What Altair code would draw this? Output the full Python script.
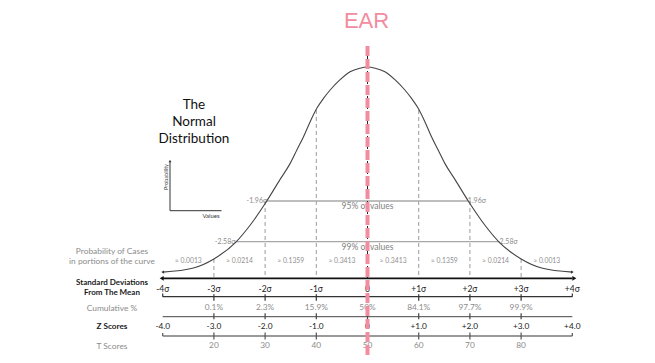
import altair as alt
import pandas as pd

# ---- data ----
# curve heights (peak = 1) at positions in standard deviations
curve_sigma = [-4.0, -3.4, -3.0, -2.57, -2.29, -1.98, -1.71, -1.51, -1.38, -1.25, -1.12, -0.99,
               -0.86, -0.73, -0.54, -0.34, -0.15, 0.0,
               0.15, 0.34, 0.54, 0.73, 0.86, 0.99, 1.12, 1.25, 1.38, 1.51, 1.71, 1.98, 2.29,
               2.57, 3.0, 3.4, 4.0]
curve_height = [0.002, 0.022, 0.066, 0.148, 0.231, 0.343, 0.452, 0.531, 0.596, 0.661, 0.734, 0.799,
                0.847, 0.888, 0.937, 0.977, 0.994, 1.0,
                0.994, 0.977, 0.937, 0.888, 0.847, 0.799, 0.734, 0.661, 0.596, 0.531, 0.452, 0.343, 0.231,
                0.148, 0.066, 0.022, 0.002]

guide_sigma = [-3, -2, -1, 1, 2, 3]
guide_top = [0.066, 0.348, 0.791, 0.791, 0.348, 0.066]

interval_names = ["95% of values", "99% of values"]
interval_half = [1.96, 2.58]
interval_height = [0.348, 0.150]
interval_left = ["-1.96σ", "-2.58σ"]
interval_right = ["1.96σ", "2.58σ"]

prob_centers = [-3.5, -2.5, -1.5, -0.5, 0.5, 1.5, 2.5, 3.5]
prob_labels = ["≈ 0.0013", "≈ 0.0214", "≈ 0.1359", "≈ 0.3413",
               "≈ 0.3413", "≈ 0.1359", "≈ 0.0214", "≈ 0.0013"]

sd_ticks = [-4, -3, -2, -1, 0, 1, 2, 3, 4]
sd_labels = ["-4σ", "-3σ", "-2σ", "-1σ", "0", "+1σ", "+2σ", "+3σ", "+4σ"]
z_labels = ["-4.0", "-3.0", "-2.0", "-1.0", "0", "+1.0", "+2.0", "+3.0", "+4.0"]
inner_ticks = [-3, -2, -1, 0, 1, 2, 3]
cum_labels = ["0.1%", "2.3%", "15.9%", "50%", "84.1%", "97.7%", "99.9%"]
t_labels = ["20", "30", "40", "50", "60", "70", "80"]

row_names = ["Probability of Cases", "in portions of the curve", "Standard Deviations",
             "From The Mean", "Cumulative %", "Z Scores", "T Scores"]
title_lines = ["The", "Normal", "Distribution"]
marker_label = "EAR"

# ---- style ----
FONT = "Lato"
GREY = "#8c8c8c"
DARK = "#222222"
PINK = "#F28CA0"

XS = alt.Scale(domain=[-7.0215, 5.4585], nice=False, zero=False)
YS = alt.Scale(domain=[-0.4015, 1.2871], nice=False, zero=False)


def X(f="x"):
    return alt.X(f + ":Q", scale=XS, axis=None)


def Y(f="y"):
    return alt.Y(f + ":Q", scale=YS, axis=None)


curve_df = pd.DataFrame({"x": curve_sigma, "y": curve_height})
curve = alt.Chart(curve_df).mark_line(color="#444444", strokeWidth=1.1, interpolate="monotone").encode(
    x=X(), y=Y())

ends_df = pd.DataFrame({"x": [curve_sigma[0], curve_sigma[-1]],
                        "y": [curve_height[0], curve_height[-1]],
                        "s": ["l", "r"]})
ends = alt.Chart(ends_df).mark_point(filled=True, size=10, color="#333333", opacity=1).encode(
    x=X(), y=Y(),
    shape=alt.Shape("s:N", scale=alt.Scale(domain=["l", "r"], range=["triangle-left", "triangle-right"]),
                    legend=None))

guide_df = pd.DataFrame({"x": guide_sigma, "y": guide_top})
guides = alt.Chart(guide_df).mark_rule(color="#9a9a9a", strokeDash=[4, 3], strokeWidth=1).encode(
    x=X(), y=Y(), y2=alt.value(270))

int_df = pd.DataFrame({"name": interval_names,
                       "x": [-h for h in interval_half], "x2": interval_half,
                       "y": interval_height, "l": interval_left, "r": interval_right})
int_rules = alt.Chart(int_df).mark_rule(color="#a8a8a8", strokeWidth=1.4).encode(
    x=X(), x2="x2:Q", y=Y())
int_l = alt.Chart(int_df).mark_text(font=FONT, fontSize=7, color=GREY, align="right", baseline="middle").encode(
    x=X(), y=Y(), text="l:N")
int_r = alt.Chart(int_df).mark_text(font=FONT, fontSize=7, color=GREY, align="left", baseline="middle").encode(
    x=X("x2"), y=Y(), text="r:N")
int_df["mid"] = 0.0
int_t = alt.Chart(int_df).mark_text(font=FONT, fontSize=8.5, color="#808080", align="center",
                                    baseline="top", dy=1).encode(
    x=X("mid"), y=Y(), text="name:N")

prob_df = pd.DataFrame({"x": prob_centers, "t": prob_labels})
probs = alt.Chart(prob_df).mark_text(font=FONT, fontSize=6.8, color="#909090", baseline="middle").encode(
    x=X(), y=alt.value(252.7), text="t:N")

# main arrow axis
axis_df = pd.DataFrame({"x": [sd_ticks[0]], "x2": [sd_ticks[-1]]})
main_axis = alt.Chart(axis_df).mark_rule(color="#111111", strokeWidth=1.8).encode(
    x=X(), x2="x2:Q", y=alt.value(270.3))
arrows_df = pd.DataFrame({"x": [sd_ticks[0] - 0.02, sd_ticks[-1] + 0.04], "s": ["l", "r"]})
arrows = alt.Chart(arrows_df).mark_point(filled=True, size=22, color="#111111", opacity=1).encode(
    x=X(), y=alt.value(270.3),
    shape=alt.Shape("s:N", scale=alt.Scale(domain=["l", "r"], range=["triangle-left", "triangle-right"]),
                    legend=None))

sd_df = pd.DataFrame({"x": sd_ticks, "t": sd_labels, "z": z_labels})
sd_text = alt.Chart(sd_df).mark_text(font=FONT, fontSize=8.5, color=DARK, baseline="middle").encode(
    x=X(), y=alt.value(281), text="t:N")
z_text = alt.Chart(sd_df).mark_text(font=FONT, fontSize=8.3, color=DARK, baseline="middle").encode(
    x=X(), y=alt.value(319.3), text="z:N")

inner_df = pd.DataFrame({"x": inner_ticks, "c": cum_labels, "t": t_labels})
cum_text = alt.Chart(inner_df).mark_text(font=FONT, fontSize=8.3, color=GREY, baseline="middle").encode(
    x=X(), y=alt.value(300.3), text="c:N")
t_text = alt.Chart(inner_df).mark_text(font=FONT, fontSize=8.3, color=GREY, baseline="middle").encode(
    x=X(), y=alt.value(338), text="t:N")

# scale lines
sd_line = alt.Chart(axis_df).mark_rule(color="#333333", strokeWidth=1.2).encode(
    x=X(), x2="x2:Q", y=alt.value(288.7))
sd_ticks_m = alt.Chart(inner_df).mark_rule(color="#333333", strokeWidth=1.2).encode(
    x=X(), y=alt.value(286.3), y2=alt.value(292.7))
ends_only = pd.DataFrame({"x": [sd_ticks[0], sd_ticks[-1]]})
sd_caps = alt.Chart(ends_only).mark_rule(color="#333333", strokeWidth=1.2).encode(
    x=X(), y=alt.value(285.5), y2=alt.value(288.7))

z_line = alt.Chart(axis_df).mark_rule(color="#444444", strokeWidth=1.0).encode(
    x=X(), x2="x2:Q", y=alt.value(308.7))
z_ticks_m = alt.Chart(inner_df).mark_rule(color="#444444", strokeWidth=1.2).encode(
    x=X(), y=alt.value(305.3), y2=alt.value(311.3))

t_line = alt.Chart(axis_df).mark_rule(color="#9a9a9a", strokeWidth=2).encode(
    x=X(), x2="x2:Q", y=alt.value(328))
t_ticks_m = alt.Chart(inner_df).mark_rule(color="#555555", strokeWidth=1.2).encode(
    x=X(), y=alt.value(324.5), y2=alt.value(331.5))
t_caps = alt.Chart(ends_only).mark_rule(color="#555555", strokeWidth=1.2).encode(
    x=X(), y=alt.value(325), y2=alt.value(328))

# left row names
rows_df = pd.DataFrame({
    "t": row_names,
    "py": [242.7, 253.0, 274.7, 284.7, 300.3, 319.3, 338.0],
    "c": ["#8c8c8c", "#8c8c8c", "#1a1a1a", "#1a1a1a", "#8c8c8c", "#1a1a1a", "#8c8c8c"],
    "w": ["normal", "normal", "bold", "bold", "normal", "bold", "normal"],
    "s": [8.4, 8.4, 8.0, 8.0, 8.4, 8.2, 8.4],
})
row_layers = []
for i in range(len(rows_df)):
    r = rows_df.iloc[[i]]
    row_layers.append(
        alt.Chart(r).mark_text(font=FONT, fontSize=float(r["s"].iloc[0]), color=r["c"].iloc[0],
                               fontWeight=r["w"].iloc[0], baseline="middle", align="center").encode(
            x=alt.value(104), y=alt.value(float(r["py"].iloc[0])), text="t:N"))

# inset title
title_df = pd.DataFrame({"t": title_lines, "py": [97, 114.3, 131.3]})
title_txt = alt.Chart(title_df).mark_text(font=FONT, fontSize=13.5, color="#111111", baseline="middle").encode(
    x=alt.value(186), y=alt.Y("py:Q", scale=None), text="t:N")

inset_v = alt.Chart(pd.DataFrame({"a": [0]})).mark_rule(color="#333333", strokeWidth=1).encode(
    x=alt.value(162), y=alt.value(153), y2=alt.value(202.7))
inset_h = alt.Chart(pd.DataFrame({"a": [0]})).mark_rule(color="#333333", strokeWidth=1).encode(
    x=alt.value(162), x2=alt.value(213.5), y=alt.value(202.7))
inset_arrow = alt.Chart(pd.DataFrame({"a": [0]})).mark_point(shape="triangle-up", filled=True, size=8,
                                                              color="#333333", opacity=1).encode(
    x=alt.value(162), y=alt.value(153))
inset_p = alt.Chart(pd.DataFrame({"t": ["Probability"]})).mark_text(
    font=FONT, fontSize=5.5, color="#333333", angle=270, baseline="middle").encode(
    x=alt.value(157.5), y=alt.value(169), text="t:N")
inset_vals = alt.Chart(pd.DataFrame({"t": ["Values"]})).mark_text(
    font=FONT, fontSize=6, color="#333333", baseline="middle").encode(
    x=alt.value(203), y=alt.value(207.5), text="t:N")

# mean line (thin black dashes) and EAR marker
mean_df = pd.DataFrame({"x": [0.0]})
mean_line = alt.Chart(mean_df).mark_rule(color="#222222", strokeWidth=1, strokeDash=[3, 2]).encode(
    x=X(), y=alt.value(38), y2=alt.value(270))
ear_line = alt.Chart(mean_df).mark_rule(color=PINK, strokeWidth=4, strokeDash=[10, 3]).encode(
    x=X(), y=alt.value(38), y2=alt.value(347))
ear_txt = alt.Chart(pd.DataFrame({"x": [0.0], "t": [marker_label]})).mark_text(
    font="Liberation Sans", fontSize=22, color=PINK, baseline="top", dx=-1).encode(
    x=X(), y=alt.value(3), text="t:N")

chart = alt.layer(
    guides, int_rules, int_l, int_r, int_t, probs, curve, ends,
    main_axis, arrows, sd_text, z_text, cum_text, t_text,
    sd_line, sd_ticks_m, sd_caps, z_line, z_ticks_m, t_line, t_ticks_m, t_caps,
    *row_layers, title_txt, inset_v, inset_h, inset_arrow, inset_p, inset_vals,
    mean_line, ear_line, ear_txt,
).properties(width=639, height=347, padding=0, autosize=alt.AutoSizeParams(type="none")).configure_view(
    stroke=None).resolve_scale(shape="independent")

chart.save("out.html", embed_options={"renderer": "svg", "actions": False})
